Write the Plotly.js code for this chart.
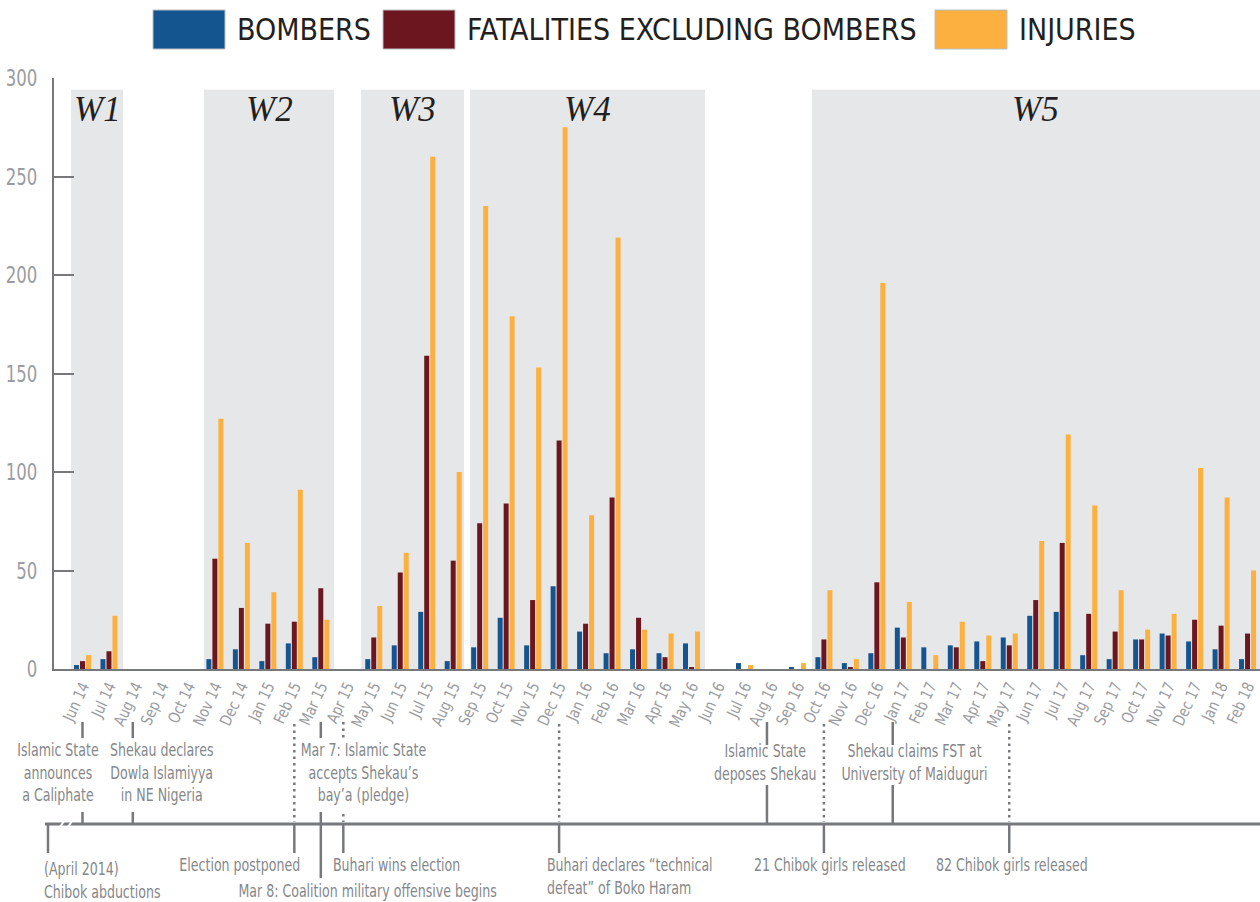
<!DOCTYPE html>
<html>
<head>
<meta charset="utf-8">
<script src="https://cdn.plot.ly/plotly-3.0.1.min.js"></script>
<style>html,body{margin:0;padding:0;background:#fff;}#chart{width:1260px;height:902px;}</style>
</head>
<body>
<div id="chart"></div>
<script>
// ---------- DATA ----------
const months = ['Jun 14','Jul 14','Aug 14','Sep 14','Oct 14','Nov 14','Dec 14','Jan 15','Feb 15','Mar 15',
  'Apr 15','May 15','Jun 15','Jul 15','Aug 15','Sep 15','Oct 15','Nov 15','Dec 15','Jan 16',
  'Feb 16','Mar 16','Apr 16','May 16','Jun 16','Jul 16','Aug 16','Sep 16','Oct 16','Nov 16',
  'Dec 16','Jan 17','Feb 17','Mar 17','Apr 17','May 17','Jun 17','Jul 17','Aug 17','Sep 17',
  'Oct 17','Nov 17','Dec 17','Jan 18','Feb 18'];
const bombers = [2,5,0,0,0,5,10,4,13,6, 0,5,12,29,4,11,26,12,42,19, 8,10,8,13,0,3,0,1,6,3, 8,21,11,12,14,16,27,29,7,5, 15,18,14,10,5];
const fatalities = [4,9,0,0,0,56,31,23,24,41, 0,16,49,159,55,74,84,35,116,23, 87,26,6,1,0,0,0,0,15,1, 44,16,0,11,4,12,35,64,28,19, 15,17,25,22,18];
const injuries = [7,27,0,0,0,127,64,39,91,25, 0,32,59,260,100,235,179,153,275,78, 219,20,18,19,0,2,0,3,40,5, 196,34,7,24,17,18,65,119,83,40, 20,28,102,87,50];
const seriesNames = ['BOMBERS','FATALITIES EXCLUDING BOMBERS','INJURIES'];
const yTicks = [0,50,100,150,200,250,300];
// waves (in month-index units)
const waveLabels = ['W1','W2','W3','W4','W5'];
const waveStart = [-0.43, 4.59, 10.52, 14.64, 27.55];
const waveEnd = [1.53, 9.50, 14.41, 23.51, 44.6];

// ---------- STYLE ----------
const COLORS = ['#14548f','#6c1620','#fbb040'];
const GREY = '#77787b';
const TXT = '#85878a';
const NARROW = '"DejaVu Sans Condensed","Liberation Sans Narrow","Roboto",sans-serif';

// geometry helpers (pixel -> paper)
const L = 54, R = 1260, TOP = 78, BOT = 669;
const PW = R - L, PH = BOT - TOP;
const px = x => (x - L) / PW;
const py = y => (BOT - y) / PH;

const traces = [bombers, fatalities, injuries].map((vals, i) => ({
  type: 'bar', x: months, y: vals, name: seriesNames[i],
  marker: {color: COLORS[i], line: {width: 0}}, hoverinfo: 'x+y+name'
}));

const shapes = [];
const annotations = [];
const condenseIdx = [];

// wave shading + labels
waveLabels.forEach((w, i) => {
  shapes.push({type: 'rect', xref: 'x', yref: 'y', layer: 'below',
    x0: waveStart[i], x1: waveEnd[i], y0: 0, y1: 294,
    fillcolor: '#e6e7e8', line: {width: 0}});
  annotations.push({xref: 'x', yref: 'y', x: (waveStart[i] + Math.min(waveEnd[i], 44.47)) / 2, y: 284,
    text: '<i>' + w + '</i>', showarrow: false, xanchor: 'center', yanchor: 'middle',
    font: {family: '"Liberation Serif","DejaVu Serif",serif', size: 35, color: '#231f20'}});
});

// legend (drawn manually, large swatches)
const legendItems = [
  {x0: 153, x1: 225, tx: 235}, {x0: 383, x1: 455, tx: 465}, {x0: 935, x1: 1007, tx: 1017}];
legendItems.forEach((it, i) => {
  shapes.push({type: 'rect', xref: 'paper', yref: 'paper', x0: px(it.x0), x1: px(it.x1), y0: py(49), y1: py(10),
    fillcolor: COLORS[i], line: {color: '#bcbec0', width: 1}});
  annotations.push({xref: 'paper', yref: 'paper', x: px(it.tx), y: py(30), text: seriesNames[i],
    showarrow: false, xanchor: 'left', yanchor: 'middle',
    font: {family: NARROW, size: 30, color: '#231f20'}});
});

// timeline
shapes.push({type: 'line', xref: 'paper', yref: 'paper', x0: px(45), x1: px(1260), y0: py(824), y1: py(824),
  line: {color: GREY, width: 3}});
shapes.push({type: 'line', xref: 'paper', yref: 'paper', x0: px(60), x1: px(64), y0: py(827), y1: py(821), line: {color: '#fff', width: 2}});
shapes.push({type: 'line', xref: 'paper', yref: 'paper', x0: px(68), x1: px(72), y0: py(827), y1: py(821), line: {color: '#fff', width: 2}});

// vertical event lines (x in month-index units), split where text sits
function vline(x, y0, y1, dotted, xref) {
  shapes.push({type: 'line', xref: xref || 'x', yref: 'paper', x0: x, x1: x, y0: py(y0), y1: py(y1),
    line: dotted ? {color: GREY, width: 2.5, dash: '2.5px,4px'} : {color: GREY, width: 2.5}});
}
// above the timeline
[0, 1.9, 9].forEach(x => { vline(x, 722, 738); vline(x, 812, 824); });
[25.85, 30.6].forEach(x => { vline(x, 722, 745); vline(x, 785, 824); });
[8, 18, 28, 35].forEach(x => vline(x, 724, 822, true));
vline(9.85, 722, 738, true); vline(9.85, 814, 822, true);
// below the timeline
[8, 9.85, 18, 28, 35].forEach(x => vline(x, 824, 853));
vline(9, 824, 878);
vline(px(48), 824, 853, false, 'paper');

function note(text, xref, x, y, xanchor, align) {
  condenseIdx.push(annotations.length);
  annotations.push({xref: xref, yref: 'paper', x: x, y: py(y), text: text, showarrow: false,
    xanchor: xanchor, yanchor: 'middle', align: align,
    font: {family: NARROW, size: 17.5, color: TXT}});
}
note('Islamic State<br>announces<br>a Caliphate', 'x', -0.925, 773, 'center', 'center');
note('Shekau declares<br>Dowla Islamiyya<br>in NE Nigeria', 'x', 2.965, 773, 'center', 'center');
note('Mar 7: Islamic State<br>accepts Shekau’s<br>bay’a (pledge)', 'x', 10.63, 773, 'center', 'center');
note('Islamic State<br>deposes Shekau', 'x', 25.78, 762, 'center', 'center');
note('Shekau claims FST at<br>University of Maiduguri', 'x', 31.44, 762, 'center', 'center');
note('(April 2014)<br>Chibok abductions', 'paper', px(42), 880, 'left', 'left');
note('Election postponed', 'x', 8.29, 865, 'right', 'right');
note('Mar 8: Coalition military offensive begins', 'x', 10.78, 891, 'center', 'center');
note('Buhari wins election', 'x', 9.38, 865, 'left', 'left');
note('Buhari declares “technical<br>defeat” of Boko Haram', 'x', 17.47, 876, 'left', 'left');
note('21 Chibok girls released', 'x', 28.23, 865, 'center', 'center');
note('82 Chibok girls released', 'x', 35.1, 865, 'center', 'center');

const layout = {
  width: 1260, height: 902,
  margin: {l: L, r: 1260 - R, t: TOP, b: 902 - BOT, pad: 0},
  paper_bgcolor: '#fff', plot_bgcolor: '#fff',
  showlegend: false,
  barmode: 'group', bargap: 0.32, bargroupgap: 0.17,
  xaxis: {type: 'category', range: [-1.076, 44.47], showgrid: false, zeroline: false,
    showline: true, linecolor: GREY, linewidth: 2, ticks: '', tickangle: -65,
    tickfont: {family: NARROW, size: 16, color: '#9a9c9f'}, fixedrange: true},
  yaxis: {range: [0, 300], tickvals: yTicks, ticktext: yTicks.map(String), showgrid: false, zeroline: false,
    showline: true, linecolor: GREY, linewidth: 2, ticks: 'inside', ticklen: 20, tickwidth: 2, tickcolor: GREY,
    tickfont: {family: NARROW, size: 23, color: '#9a9c9f'}, ticklabelstandoff: 10, fixedrange: true},
  shapes: shapes,
  annotations: annotations
};

// horizontal condensing of text (the original uses a condensed light face)
function condense(el, s) {
  const x = parseFloat(el.getAttribute('x')) || 0;
  const t = el.getAttribute('transform') || '';
  el.setAttribute('transform', t + ' translate(' + x + ',0) scale(' + s + ',1) translate(' + (-x) + ',0)');
}

Plotly.newPlot('chart', traces, layout, {displayModeBar: false, staticPlot: true}).then(gd => {
  gd.querySelectorAll('.xtick text').forEach(el => condense(el, 0.9));
  gd.querySelectorAll('.ytick text').forEach(el => condense(el, 0.8));
  condenseIdx.forEach(i => {
    const el = gd.querySelector('.annotation[data-index="' + i + '"] text');
    if (el) condense(el, 0.8);
  });
});
</script>
</body>
</html>
